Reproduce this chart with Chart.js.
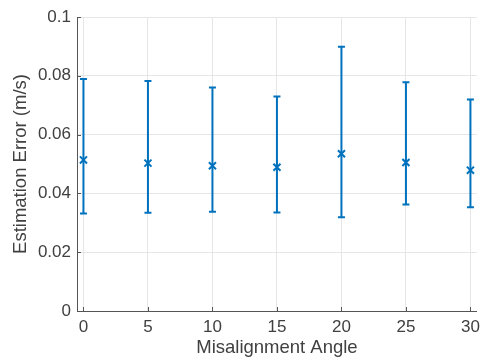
<!DOCTYPE html>
<html>
<head>
<meta charset="utf-8">
<script src="https://cdn.jsdelivr.net/npm/chart.js@4/dist/chart.umd.min.js"></script>
<style>
  html, body { margin: 0; padding: 0; background: #fff; }
  #wrap { width: 486px; height: 361px; }
</style>
</head>
<body>
<div id="wrap"><canvas id="err"></canvas></div>
<script>
const angles = [0, 5, 10, 15, 20, 25, 30]
const meanErr = [0.0514, 0.0503, 0.0494, 0.0489, 0.0535, 0.0505, 0.0479]
const upperErr = [0.0789, 0.0782, 0.0760, 0.0730, 0.0899, 0.0778, 0.0719]
const lowerErr = [0.0332, 0.0334, 0.0338, 0.0335, 0.0319, 0.0362, 0.0353]
const xTicks = [0, 5, 10, 15, 20, 25, 30]
const yTicks = [0, 0.02, 0.04, 0.06, 0.08, 0.1]
const yTickLabels = ['0', '0.02', '0.04', '0.06', '0.08', '0.1']

const BLUE = '#0072BD'
const FONT = "'Liberation Sans', Arial, Helvetica, sans-serif"

// whiskers + inward ticks, drawn from the scales
const errorBars = {
  id: 'errorBars',
  beforeDatasetsDraw(chart) {
    const { ctx, scales: { x, y }, chartArea } = chart
    ctx.save()
    // MATLAB style inward tick marks
    ctx.strokeStyle = '#555'
    ctx.lineWidth = 1
    xTicks.forEach(v => {
      const px = Math.round(x.getPixelForValue(v)) + 0.5
      ctx.beginPath()
      ctx.moveTo(px, chartArea.bottom)
      ctx.lineTo(px, chartArea.bottom - 4)
      ctx.stroke()
    })
    yTicks.forEach(v => {
      const py = Math.round(y.getPixelForValue(v)) + 0.5
      ctx.beginPath()
      ctx.moveTo(chartArea.left, py)
      ctx.lineTo(chartArea.left + 4, py)
      ctx.stroke()
    })
    ctx.strokeStyle = BLUE
    ctx.lineWidth = 2
    angles.forEach((a, i) => {
      const px = x.getPixelForValue(a)
      const top = y.getPixelForValue(upperErr[i])
      const bot = y.getPixelForValue(lowerErr[i])
      ctx.beginPath()
      ctx.moveTo(px, top)
      ctx.lineTo(px, bot)
      ctx.moveTo(px - 3.5, top)
      ctx.lineTo(px + 3.5, top)
      ctx.moveTo(px - 3.5, bot)
      ctx.lineTo(px + 3.5, bot)
      ctx.stroke()
    })
    ctx.restore()
  }
}

new Chart('err', {
  type: 'scatter',
  data: {
    datasets: [{
      data: angles.map((a, i) => ({ x: a, y: meanErr[i] })),
      pointStyle: 'crossRot',
      pointRadius: 5,
      pointBorderWidth: 2,
      borderColor: BLUE,
      backgroundColor: BLUE,
    }]
  },
  options: {
    responsive: true,
    maintainAspectRatio: false,
    animation: false,
    layout: { padding: { top: 17, right: 7, left: 0, bottom: 0 } },
    plugins: {
      legend: { display: false },
      tooltip: { enabled: false },
    },
    scales: {
      x: {
        type: 'linear',
        min: -0.5,
        max: 30.5,
        afterBuildTicks: s => { s.ticks = xTicks.map(v => ({ value: v })) },
        afterFit: s => { s.height = 50 },
        grid: { color: '#e6e6e6', drawTicks: false },
        border: { display: true, color: '#555', width: 1 },
        ticks: { padding: 6, color: '#404040', font: { family: FONT, size: 17 } },
        title: {
          display: true,
          text: 'Misalignment Angle',
          color: '#404040',
          font: { family: FONT, size: 18.5 },
          padding: { top: 0, bottom: 2 },
        },
      },
      y: {
        min: 0,
        max: 0.1,
        afterBuildTicks: s => { s.ticks = yTicks.map(v => ({ value: v })) },
        afterFit: s => { s.width = 77 },
        grid: { color: '#e6e6e6', drawTicks: false },
        border: { display: true, color: '#555', width: 1 },
        ticks: {
          padding: 6,
          color: '#404040',
          font: { family: FONT, size: 17 },
          callback: (v) => yTickLabels[yTicks.indexOf(v)] ?? '',
        },
        title: {
          display: true,
          text: 'Estimation Error (m/s)',
          color: '#404040',
          font: { family: FONT, size: 18.5 },
          padding: { top: 10, bottom: 0 },
        },
      },
    },
  },
  plugins: [errorBars],
})
</script>
</body>
</html>
